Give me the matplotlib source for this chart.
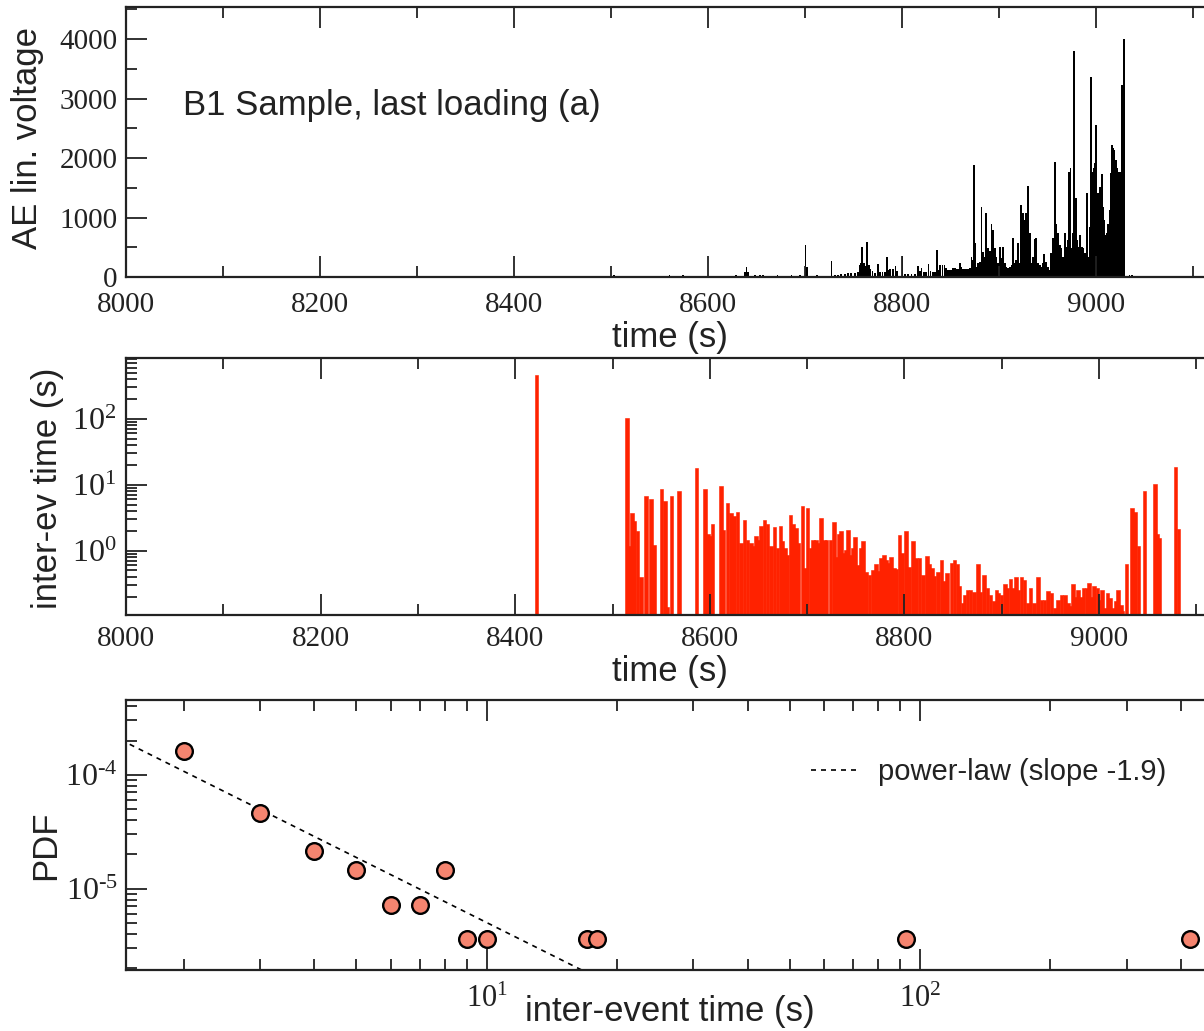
import numpy as np
import matplotlib
matplotlib.use('Agg')
import matplotlib.pyplot as plt
from matplotlib.ticker import MultipleLocator, LogLocator, NullFormatter, FuncFormatter

plt.rcParams['font.family'] = ['Liberation Sans', 'DejaVu Sans']
plt.rcParams['mathtext.fontset'] = 'custom'
plt.rcParams['mathtext.rm'] = 'Liberation Serif'
plt.rcParams['mathtext.it'] = 'Liberation Serif:italic'
plt.rcParams['mathtext.bf'] = 'Liberation Serif:bold'

# ---------------- data ----------------
# (a) AE linear voltage vs time
ae_time = [8503, 8560, 8574, 8629, 8637.7, 8639.4, 8641.1, 8648, 8653, 8656.5,
           8671.3, 8685.7, 8694.3, 8700.2, 8701.9, 8712.2, 8727, 8730.4, 8733.8, 8737.2,
           8740.7, 8744.1, 8747.5, 8751, 8754.4, 8756.1, 8757.5, 8758.5, 8760.2, 8762,
           8764, 8765.4, 8767.1, 8769.2, 8771.6, 8775, 8776.7, 8779.5, 8781.9, 8784,
           8785.7, 8787.7, 8790.5, 8792.9, 8794.9, 8800.1, 8802.5, 8805.9, 8809.4, 8812.8,
           8816.2, 8817.9, 8819.7, 8822.1, 8824.8, 8826.9, 8829, 8831.7, 8833.7, 8835.8,
           8837.5, 8839.2, 8841.3, 8843.4, 8845.4, 8847.1, 8848.9, 8850.9, 8852.3, 8854,
           8855.7, 8857.4, 8859.2, 8860.9, 8862.6, 8864.3, 8866, 8867.7, 8869.5, 8871.2,
           8872.2, 8873.6, 8875, 8876.3,
           8878.0, 8879.7, 8881.5, 8883.2, 8884.9, 8886.6, 8888.3, 8890.1, 8891.8, 8893.5,
           8895.2, 8896.9, 8898.7, 8900.4, 8902.1, 8903.8, 8905.5, 8907.2, 8909.0, 8910.7,
           8912.4, 8914.1, 8915.8, 8917.5, 8919.2, 8921.0, 8922.7, 8924.4, 8926.1, 8927.8,
           8929.2, 8931.3, 8933.0, 8934.7, 8936.4, 8938.1, 8939.8, 8941.6, 8943.3, 8945.0,
           8946.4, 8948.4, 8950.2, 8951.9, 8953.6, 8955.3, 8957.0, 8958.7, 8960.4, 8962.2,
           8963.9, 8965.6, 8967.7, 8969.0, 8970.4, 8971.8, 8973.2, 8974.9, 8975.9, 8977.3,
           8978.7, 8980.0, 8981.4, 8983.1, 8984.8, 8986.2, 8987.9, 8989.3, 8990.7, 8992.0,
           8993.4, 8994.8, 8996.1, 8997.5, 8998.9, 8999.9, 9001.3, 9002.7, 9004.1, 9005.4,
           9006.8, 9008.2, 9009.6, 9010.9, 9012.3, 9013.7, 9015.0, 9016.1, 9017.5, 9018.5,
           9019.9, 9021.2, 9022.6, 9024.0, 9025.4, 9026.7, 9028.5, 9034, 9037]
ae_voltage = [40, 30, 35, 33, 90, 162, 90, 33, 33, 33,
              33, 33, 33, 538, 173, 33, 274, 40, 40, 50,
              50, 60, 60, 60, 80, 200, 230, 510, 230, 180,
              594, 200, 140, 100, 60, 213, 80, 90, 90, 331,
              120, 130, 130, 185, 100, 358, 45, 45, 45, 45,
              185, 100, 150, 80, 80, 213, 100, 90, 90, 454,
              120, 196, 196, 196, 150, 112, 112, 112, 150, 150,
              140, 130, 235, 160, 140, 140, 140, 140, 150, 341,
              280, 1882, 566, 170,
              229, 257, 1182, 425, 341, 1070, 482, 442, 890, 790,
              482, 341, 229, 510, 313, 510, 229, 173, 145, 173,
              201, 650, 229, 285, 566, 229, 1210, 1070, 958, 1070,
              1529, 734, 229, 341, 633, 650, 229, 201, 173, 229,
              386, 257, 173, 117, 397, 650, 1938, 890, 734, 538,
              482, 341, 734, 510, 622, 1770, 1826, 482, 734, 3804,
              1322, 622, 510, 706, 510, 482, 397, 341, 1417, 341,
              846, 3367, 1770, 1826, 1910, 2554, 1406, 1154, 1518, 1731,
              1182, 958, 706, 734, 890, 1126, 1742, 2218, 2162, 2134,
              1966, 1826, 1770, 1770, 1770, 3227, 4000, 30, 30]

# (b) inter-event time vs time
iet_time = [8421.8, 8514.7, 8517.4, 8519.8, 8522.6, 8525.6, 8529.1, 8534.2, 8539.7, 8542.5,
            8550.3, 8553.8, 8556.5, 8560.6, 8568.5, 8586.4, 8594.9, 8598.0, 8600.4, 8602.8,
            8611.4, 8614.2, 8618.3, 8621.7, 8625.1, 8628.6, 8632.0, 8635.4, 8638.9, 8642.3,
            8645.0, 8647.4, 8649.8, 8652.6, 8656.0, 8659.4, 8662.9, 8666.3, 8669.7, 8672.5,
            8674.9, 8677.3, 8680.0, 8682.8, 8685.5, 8688.6, 8691.0, 8695.1, 8697.9, 8700.6,
            8703.4, 8706.1, 8709.2, 8711.6, 8714.3, 8717.1, 8719.8, 8724.0, 8727.4, 8729.8,
            8732.2, 8734.6, 8737.0, 8739.4, 8741.8, 8744.5, 8746.9, 8749.3, 8752.1, 8754.8,
            8757.6, 8760.7, 8764.1, 8767.5, 8771.0, 8773.4, 8776.1, 8778.9, 8781.3, 8783.7,
            8786.4, 8789.1, 8791.9, 8795.0, 8797.4, 8801.8, 8804.6, 8808.7, 8812.1, 8815.6,
            8819.0, 8823.1, 8825.9, 8828.3, 8831.0, 8834.4, 8837.9, 8840.6, 8844.0, 8848.2,
            8851.6, 8854.3, 8856.7, 8860.2, 8861.9, 8864.6, 8868.1, 8871.5, 8875.6, 8878.3,
            8881.8, 8885.2, 8888.6, 8892.1, 8894.5, 8896.9, 8899.6, 8903.1, 8905.8, 8909.2,
            8911.6, 8914.4, 8916.8, 8920.2, 8923.6, 8927.1, 8929.8, 8933.2, 8937.4, 8940.8,
            8944.2, 8947.7, 8951.1, 8954.5, 8958.0, 8961.4, 8964.8, 8968.2, 8971.0, 8973.4,
            8975.8, 8978.5, 8981.3, 8984.0, 8987.1, 8989.5, 8992.3, 8995.0, 8998.4, 9000.8,
            9003.2, 9006.0, 9008.7, 9011.5, 9014.5, 9016.9, 9019.7, 9022.4, 9023.8, 9028.3,
            9034.1, 9036.9, 9040.3, 9046.5, 9057.4, 9059.5, 9061.6, 9078.7, 9081.5]
iet_value = [464, 102, 1.16, 3.73, 2.78, 1.96, 0.40, 6.8, 6.07, 1.23,
             8.6, 5.6, 0.14, 6.8, 8.1, 17.9, 8.6, 1.8, 1.69, 2.56,
             9.7, 2.03, 5.3, 3.73, 3.3, 3.85, 1.31, 2.88, 1.47, 1.31,
             1.16, 1.65, 1.47, 2.33, 2.88, 2.56, 1.16, 2.25, 1.1, 2.4,
             1.42, 1.1, 0.87, 3.5, 2.56, 2.2, 1.31, 4.7, 0.55, 4.5,
             1.1, 1.47, 1.47, 1.31, 3.1, 1.47, 1.47, 1.47, 2.68, 0.8,
             1.81, 2.0, 0.92, 1.03, 2.03, 0.87, 1.08, 1.61, 0.61, 1.1,
             1.42, 0.48, 0.43, 0.50, 0.63, 0.49, 0.76, 0.86, 0.73, 0.65,
             0.80, 0.55, 0.52, 1.75, 0.92, 2.0, 0.57, 1.42, 0.78, 0.78,
             0.43, 0.82, 0.63, 0.55, 0.41, 0.47, 0.73, 0.34, 0.45, 0.65,
             0.73, 0.63, 0.29, 0.16, 0.215, 0.25, 0.256, 0.234, 0.63, 0.234,
             0.42, 0.27, 0.215, 0.17, 0.25, 0.23, 0.21, 0.31, 0.27, 0.37,
             0.27, 0.40, 0.256, 0.40, 0.36, 0.16, 0.27, 0.16, 0.40, 0.18,
             0.18, 0.24, 0.23, 0.135, 0.177, 0.215, 0.215, 0.16, 0.143, 0.31,
             0.20, 0.256, 0.20, 0.27, 0.27, 0.32, 0.20, 0.29, 0.27, 0.18,
             0.25, 0.135, 0.23, 0.19, 0.135, 0.17, 0.25, 0.15, 0.12, 0.63,
             4.4, 3.9, 1.16, 8.1, 10.4, 1.8, 1.56, 18.9, 2.13]

# (c) PDF of inter-event times
pdf_dt = [2, 3, 4, 5, 6, 7, 8, 9, 10, 17, 18, 93, 420]
pdf_val = [1.61e-4, 4.6e-5, 2.13e-5, 1.46e-5, 7.24e-6, 7.24e-6, 1.46e-5,
           3.6e-6, 3.6e-6, 3.6e-6, 3.6e-6, 3.6e-6, 3.6e-6]
powerlaw_slope = -1.9
powerlaw_amp = 4.0e-4

assert len(ae_time) == len(ae_voltage)
assert len(iet_time) == len(iet_value)

# ---------------- figure ----------------
W, H = 1204, 1031
fig = plt.figure(figsize=(W / 100, H / 100), dpi=100)
INK = '#222222'


def axes_px(left, top, right, bottom):
    return fig.add_axes([left / W, 1 - bottom / H, (right - left) / W, (bottom - top) / H])


def style(ax, xpad, ypad, xsize, ysize):
    for s in ax.spines.values():
        s.set_linewidth(1.6)
        s.set_color(INK)
    ax.tick_params(which='both', direction='in', top=True, right=True, width=1.3,
                   labelfontfamily='Liberation Serif', colors=INK)
    ax.tick_params(which='major', length=15)
    ax.tick_params(which='minor', length=8)
    ax.tick_params(axis='x', which='both', pad=xpad, labelsize=xsize)
    ax.tick_params(axis='y', which='both', pad=ypad, labelsize=ysize)


def place(axis, x_px, y_px):
    axis.set_label_coords(x_px / W, 1 - y_px / H, transform=fig.transFigure)
    lab = axis.label
    lab.set_ha('center')
    lab.set_va('center')
    lab.set_rotation_mode('anchor')


def pow_label(v, pos):
    e = int(round(np.log10(v)))
    s = str(e).replace('-', '\u2010')
    return r'$\mathdefault{10^{%s}}$' % s


pow_fmt = FuncFormatter(pow_label)

# --- top panel ---
ax1 = axes_px(126, 7, 1242, 277)
ax1.bar(ae_time, ae_voltage, width=1.9, color='black', edgecolor='none')
ax1.set_xlim(8000, 9150)
ax1.set_ylim(0, 4540)
ax1.xaxis.set_major_locator(MultipleLocator(200))
ax1.xaxis.set_minor_locator(MultipleLocator(100))
ax1.yaxis.set_major_locator(MultipleLocator(1000))
ax1.yaxis.set_minor_locator(MultipleLocator(500))
style(ax1, 11, 6, 21, 21)
ax1.set_xlabel('time (s)', fontsize=25, color=INK)
ax1.set_ylabel('AE lin. voltage', fontsize=25, color=INK)
place(ax1.xaxis, 670, 338)
place(ax1.yaxis, 28, 138)
fig.text(183 / W, 1 - 105 / H, 'B1 Sample, last loading (a)', fontsize=25,
         ha='left', va='center', color=INK)

# --- middle panel ---
ax2 = axes_px(126, 358, 1245, 614.5)
ax2.set_yscale('log')
ax2.bar(iet_time, iet_value, width=3.6, color='#ff2200', edgecolor='#ff2200', linewidth=0.4)
ax2.set_xlim(8000, 9150)
ax2.set_ylim(0.107, 840)
ax2.xaxis.set_major_locator(MultipleLocator(200))
ax2.xaxis.set_minor_locator(MultipleLocator(100))
ax2.yaxis.set_major_locator(LogLocator(base=10, numticks=20))
ax2.yaxis.set_minor_locator(LogLocator(base=10, subs=np.arange(2, 10), numticks=50))
ax2.yaxis.set_major_formatter(pow_fmt)
ax2.yaxis.set_minor_formatter(NullFormatter())
style(ax2, 8.5, 7, 21, 23)
ax2.set_xlabel('time (s)', fontsize=25, color=INK)
ax2.set_ylabel('inter-ev time (s)', fontsize=25, color=INK)
place(ax2.xaxis, 670, 672)
place(ax2.yaxis, 48, 488)

# --- bottom panel ---
ax3 = axes_px(126, 700, 1257, 970)
ax3.set_xscale('log')
ax3.set_yscale('log')
xs = np.logspace(np.log10(1.3), np.log10(40), 100)
ax3.plot(xs, powerlaw_amp * xs ** powerlaw_slope, color='black', lw=1.2,
         linestyle=(0, (3, 3)), label='power-law (slope -1.9)')
ax3.plot(pdf_dt, pdf_val, 'o', ms=12, mfc='#f5846f', mec='black', mew=1.7, zorder=3)
ax3.set_xlim(1.47, 600)
ax3.set_ylim(1.93e-6, 4.54e-4)
ax3.xaxis.set_major_locator(LogLocator(base=10, numticks=20))
ax3.xaxis.set_minor_locator(LogLocator(base=10, subs=np.arange(2, 10), numticks=50))
ax3.yaxis.set_major_locator(LogLocator(base=10, numticks=20))
ax3.yaxis.set_minor_locator(LogLocator(base=10, subs=np.arange(2, 10), numticks=50))
for a in (ax3.xaxis, ax3.yaxis):
    a.set_major_formatter(pow_fmt)
    a.set_minor_formatter(NullFormatter())
style(ax3, 11, 6, 22, 23)
ax3.set_xlabel('inter-event time (s)', fontsize=25, color=INK)
ax3.set_ylabel('PDF', fontsize=25, color=INK)
place(ax3.xaxis, 670, 1011)
place(ax3.yaxis, 46, 845)
ax3.legend(loc='center left', bbox_to_anchor=(811 / W, 1 - 772 / H),
           bbox_transform=fig.transFigure, frameon=False, fontsize=21,
           handlelength=1.55, handletextpad=0.75, borderpad=0, borderaxespad=0,
           labelcolor=INK)

fig.savefig('out.png', dpi=100)
